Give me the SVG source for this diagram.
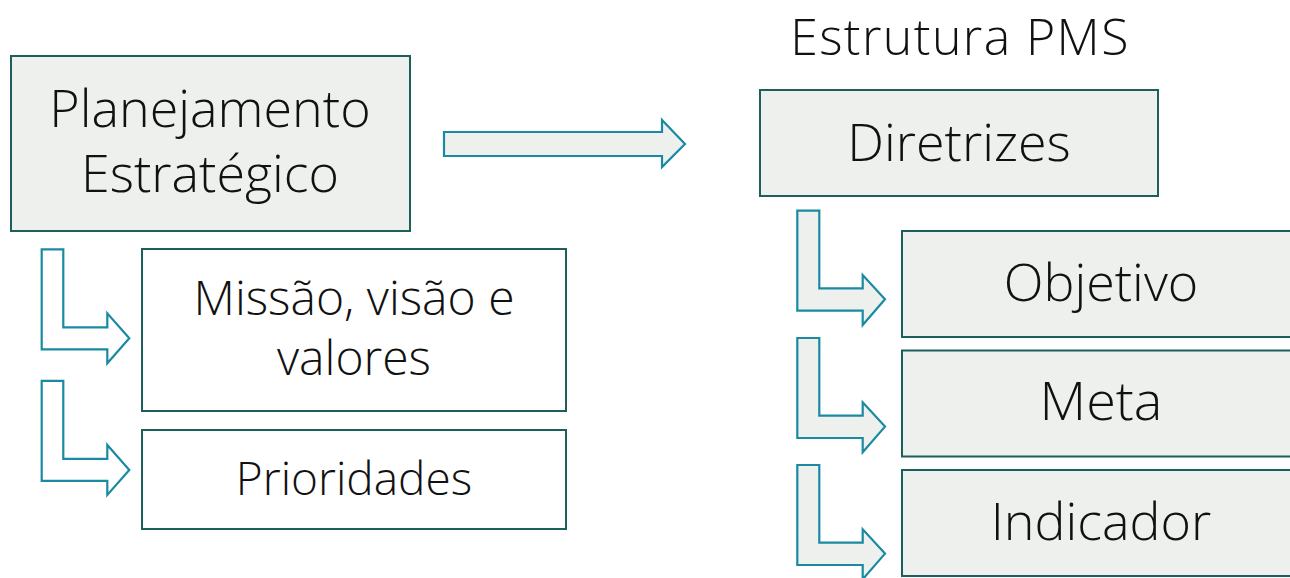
<svg xmlns="http://www.w3.org/2000/svg" width="1290" height="578" viewBox="0 0 1290 578">
<style>
.box{stroke:#1d5f5b;stroke-width:2}
.g{fill:#eef0ed}
.w{fill:#ffffff}
.arr{stroke:#1a8aa2;stroke-width:2.2;stroke-linejoin:miter}
text{font-family:"Open Sans","Liberation Sans",sans-serif;font-weight:300;font-size:52px;fill:#111;text-anchor:middle}
.m{font-size:48px}
.p{font-size:46px}
.t{font-size:50px;letter-spacing:1.4px}
.k{font-size:54px}
</style>
<rect width="1290" height="578" fill="#fff"/>
<g id="connectors">
<path class="arr g" d="M444,132 L662,132 L662,120 L685,144 L662,167 L662,156 L444,156 Z"/>
<path class="arr w" d="M41.7,249.3 L63.3,249.3 L63.3,327.3 L107.3,327.3 L107.3,313.3 L129.3,338.3 L107.3,363.3 L107.3,349.3 L41.7,349.3 Z"/>
<path class="arr w" transform="translate(0,131.6)" d="M41.7,249.3 L63.3,249.3 L63.3,327.3 L107.3,327.3 L107.3,313.3 L129.3,338.3 L107.3,363.3 L107.3,349.3 L41.7,349.3 Z"/>
<path class="arr g" d="M797.3,210.7 L819.3,210.7 L819.3,288.3 L862.7,288.3 L862.7,275 L885,299.3 L862.7,325 L862.7,310.7 L797.3,310.7 Z"/>
<path class="arr g" transform="translate(0,127.3)" d="M797.3,210.7 L819.3,210.7 L819.3,288.3 L862.7,288.3 L862.7,275 L885,299.3 L862.7,325 L862.7,310.7 L797.3,310.7 Z"/>
<path class="arr g" transform="translate(0,254.3)" d="M797.3,210.7 L819.3,210.7 L819.3,288.3 L862.7,288.3 L862.7,275 L885,299.3 L862.7,325 L862.7,310.7 L797.3,310.7 Z"/>
</g>
<g id="planejamento">
<rect class="box g" x="11" y="56" width="399" height="175"/>
<text x="210" y="127">Planejamento</text>
<text x="210" y="192">Estratégico</text>
</g>
<g id="missao">
<rect class="box w" x="142" y="249" width="424" height="162"/>
<text class="m" x="354" y="315">Missão, visão e</text>
<text class="m" x="354" y="375">valores</text>
</g>
<g id="prioridades">
<rect class="box w" x="142" y="430" width="424" height="99"/>
<text class="p" x="354" y="495">Prioridades</text>
</g>
<g id="titulo">
<text class="t" x="960" y="55">Estrutura PMS</text>
</g>
<g id="diretrizes">
<rect class="box g" x="760" y="90" width="398" height="106"/>
<text x="959" y="161">Diretrizes</text>
</g>
<g id="objetivo">
<rect class="box g" x="902" y="231" width="400" height="106"/>
<text x="1101" y="301">Objetivo</text>
</g>
<g id="meta">
<rect class="box g" x="902" y="350.5" width="400" height="106"/>
<text class="k" x="1101" y="420">Meta</text>
</g>
<g id="indicador">
<rect class="box g" x="902" y="470" width="400" height="106"/>
<text x="1101" y="540">Indicador</text>
</g>
</svg>
